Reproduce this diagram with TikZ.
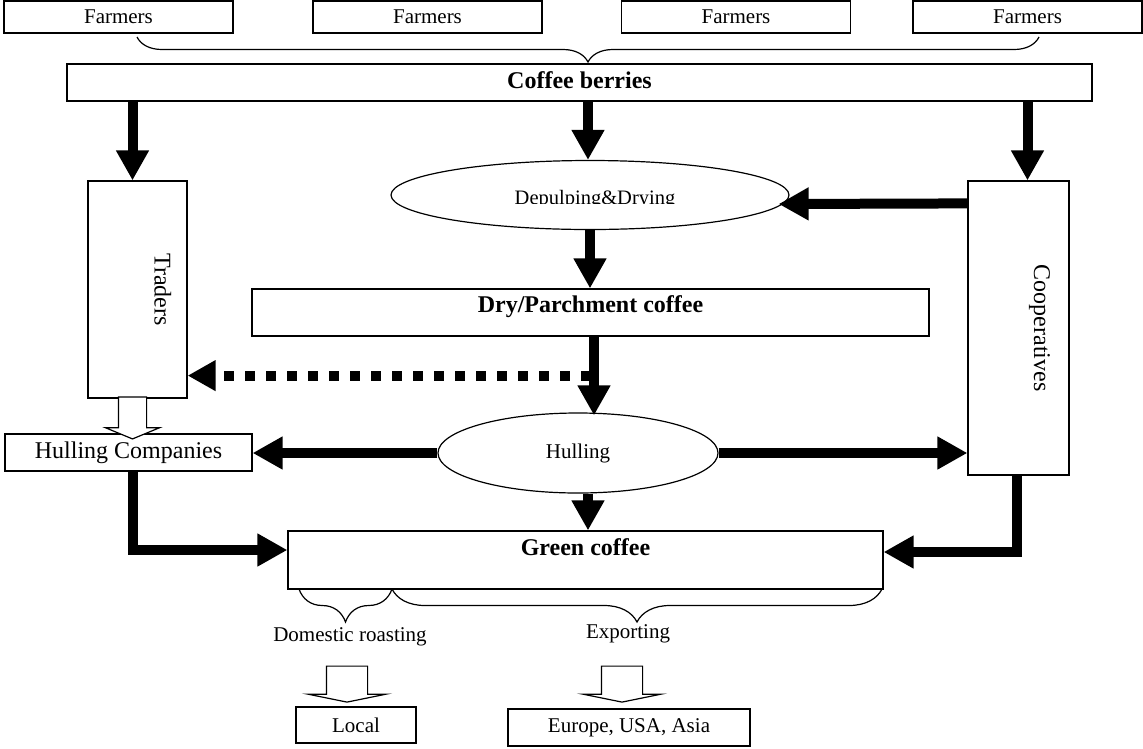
\documentclass[tikz,border=0pt]{standalone}
\usepackage{fontspec}
\setmainfont{Liberation Serif}
\usetikzlibrary{arrows.meta,positioning,calc,shapes.geometric,shapes.arrows,decorations.pathreplacing}

\newcommand{\fntn}{\fontsize{21}{25}\selectfont}
\newcommand{\fntb}{\fontsize{24}{28}\selectfont}

\begin{document}
\begin{tikzpicture}[x=1pt, y=-1pt,
    box/.style={rectangle, draw, line width=1.2pt, fill=white, inner sep=0pt, align=center},
    oval/.style={ellipse, draw, line width=1.2pt, fill=white, inner sep=0pt},
    bigarrow/.style={line width=10pt, line join=miter, -{Triangle[width=31pt,length=30pt]}},
    dotarrow/.style={line width=10pt, dash pattern=on 10pt off 11pt, -{Triangle[width=29pt,length=28pt]}},
    hollow/.style={single arrow, draw, line width=1.2pt, fill=white, inner sep=0pt, text depth=0pt, rotate=-90},
    curly/.style={decorate, decoration={brace, amplitude=#1}, line width=1.2pt},
    vtext/.style={font=\fntb, rotate=-90, anchor=base},
]
    \useasboundingbox (0,0) rectangle (1143,748);

    % Farmers on top
    \foreach \i/\x in {1/118.5, 2/427.5, 3/736, 4/1027.5} {
        \node[box, minimum width=229pt, minimum height=32pt, font=\fntn] (farm\i) at (\x,17) {Farmers};
    }
    \coordinate (bl) at (137,37);
    \coordinate (br) at (1039,37);
    \draw[curly=25] (br) -- (bl);

    \node[box, minimum width=1025pt, minimum height=37pt, font=\fntb\bfseries, text height=16pt, text depth=5pt] (coffee) at (579.5,82.5) {Coffee berries};

    % Traders and cooperatives
    \node[box, minimum width=99pt, minimum height=217pt] (traders) at (137.5,289.5) {};
    \node[vtext] (traderstxt) at ([xshift=17pt]traders.center) {Traders};
    \node[box, minimum width=101pt, minimum height=294pt] (coop) at (1018.5,328) {};
    \node[vtext] (cooptxt) at ([xshift=15.5pt]coop.center) {Cooperatives};

    % Processing
    \node[oval, minimum width=398pt, minimum height=69pt] (depulp) at (590,195) {};
    \begin{scope}
        \clip (391,150) rectangle (789,203);
        \node[font=\fontsize{20.5}{24}\selectfont, anchor=base] (depulptxt) at (595,204) {Depulping\&Drying};
    \end{scope}
    \node[box, minimum width=677pt, minimum height=47pt, font=\fntb\bfseries, text height=8pt, text depth=8pt] (dry) at (590.5,312.5) {Dry/Parchment coffee};
    \node[oval, minimum width=280pt, minimum height=80pt, font=\fntn] (hulling) at (578,453) {Hulling};
    \node[box, minimum width=247pt, minimum height=37pt, font=\fntb] (hullco) at (128.5,452.5) {Hulling Companies};
    \node[box, minimum width=595pt, minimum height=58pt, font=\fntb\bfseries, text height=12pt, text depth=22pt] (green) at (585.5,560) {Green coffee};

    % Markets
    \coordinate (g1) at (299,589);
    \coordinate (g2) at (392,589);
    \coordinate (g3) at (882,589);
    \draw[curly=33] (g2) -- (g1);
    \draw[curly=33] (g3) -- (g2);
    \node[font=\fntn, anchor=base] (dom) at (350,641) {Domestic roasting};
    \node[font=\fntn, anchor=base] (exp) at (628,638) {Exporting};
    \node[box, minimum width=120pt, minimum height=36pt, font=\fntn] (local) at (356,725) {Local};
    \node[box, minimum width=242pt, minimum height=37pt, font=\fntn] (euro) at (629,727.5) {Europe, USA, Asia};

    % Flows
    \draw[bigarrow] ([xshift=-5pt]traders.north |- coffee.south) -- ([xshift=-5pt]traders.north);
    \draw[bigarrow] ([xshift=-2pt]depulp.north |- coffee.south) -- ([xshift=-2pt]depulp.north);
    \draw[bigarrow] ([xshift=9pt]coop.north |- coffee.south) -- ([xshift=9pt]coop.north);
    \draw[bigarrow] ($(coop.north west)+(0,23)$) -- ($(depulp.east)+(-11,9)$);
    \draw[bigarrow] (depulp.south) -- (depulp.south |- dry.north);
    \coordinate (dp) at ($(dry.south)+(0,39)$);
    \draw[dotarrow] (dp) -- (dp -| traders.east);
    \draw[bigarrow] ([xshift=3.5pt]dry.south) -- ($([xshift=3.5pt]dry.south |- hulling.north)+(0,3)$);
    \draw[bigarrow] (hulling.west) -- (hulling.west -| hullco.east);
    \draw[bigarrow] (hulling.east) -- (hulling.east -| coop.west);
    \draw[bigarrow] ([xshift=10pt]hulling.south) -- ([xshift=10pt]hulling.south |- green.north);
    \draw[bigarrow] ([xshift=4.5pt]hullco.south) |- ($(green.west)+(0,-10)$);
    \draw[bigarrow] ([xshift=-1.5pt]coop.south) |- ($(green.east)+(0,-8)$);

    % Hollow arrows
    \node[hollow, text height=27pt, minimum height=42pt, single arrow head extend=13pt, single arrow tip angle=135] (th) at (132.5,415) {};
    \node[hollow, text height=40pt, minimum height=36pt, single arrow head extend=18.5pt, single arrow tip angle=157] (dl) at (347,682) {};
    \node[hollow, text height=40pt, minimum height=36pt, single arrow head extend=18.5pt, single arrow tip angle=157] (el) at (622,682) {};
\end{tikzpicture}
\end{document}
